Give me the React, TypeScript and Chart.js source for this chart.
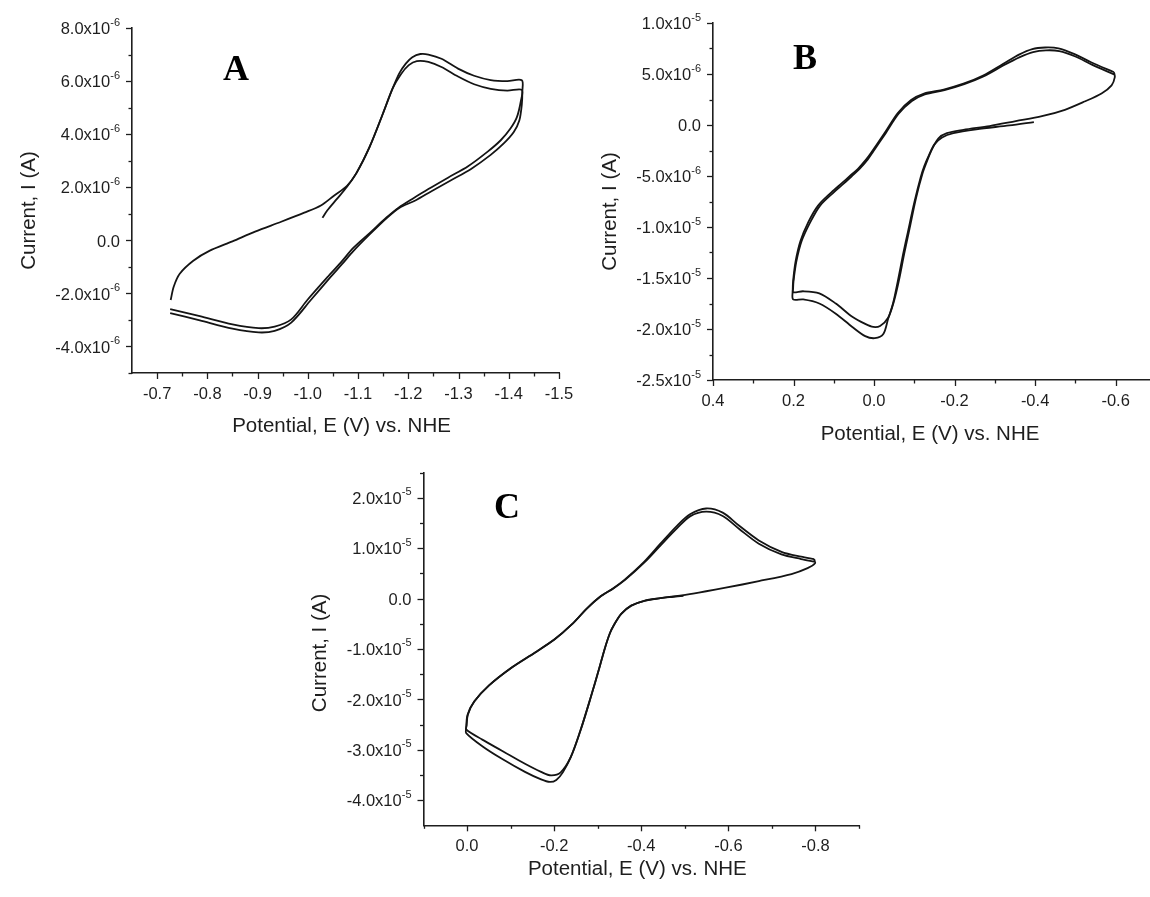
import React, { useEffect, useRef } from "react";
import { Chart, registerables } from "chart.js";

Chart.register(...registerables);

// ---------------- DATA (potential E in V, current I in µA) ----------------
// Panel A — cycle 1 (start hook, outer top, outer return/trough)
const A1_E = [-1.029, -1.039, -1.058, -1.078, -1.097, -1.123, -1.149, -1.169, -1.182, -1.195, -1.208, -1.224, -1.240, -1.266, -1.299, -1.331, -1.364, -1.397, -1.426, -1.427, -1.426, -1.421, -1.410, -1.390, -1.364, -1.325, -1.286, -1.247, -1.214, -1.182, -1.156, -1.123, -1.091, -1.068, -1.045, -1.006, -0.967, -0.934, -0.902, -0.850, -0.785, -0.726];
const A1_I = [0.85, 1.13, 1.56, 2.02, 2.54, 3.52, 4.75, 5.73, 6.29, 6.66, 6.90, 7.02, 7.00, 6.84, 6.47, 6.20, 6.04, 6.00, 6.03, 5.60, 5.12, 4.51, 4.08, 3.65, 3.22, 2.69, 2.27, 1.86, 1.50, 1.22, 0.82, 0.22, -0.40, -0.90, -1.39, -2.25, -3.10, -3.41, -3.47, -3.33, -3.02, -2.74];
// Panel A — cycle 2 (upper-left branch, inner top, inner return/trough)
const A2_E = [-0.727, -0.733, -0.745, -0.772, -0.804, -0.850, -0.895, -0.947, -0.993, -1.026, -1.052, -1.078, -1.097, -1.123, -1.149, -1.169, -1.185, -1.201, -1.217, -1.240, -1.266, -1.299, -1.331, -1.364, -1.397, -1.426, -1.424, -1.416, -1.403, -1.384, -1.358, -1.319, -1.279, -1.240, -1.208, -1.182, -1.156, -1.123, -1.091, -1.065, -1.039, -0.999, -0.967, -0.934, -0.902, -0.850, -0.785, -0.726];
const A2_I = [-2.25, -1.75, -1.26, -0.77, -0.40, -0.04, 0.33, 0.70, 1.04, 1.31, 1.68, 2.05, 2.54, 3.52, 4.75, 5.73, 6.25, 6.60, 6.75, 6.72, 6.53, 6.17, 5.88, 5.71, 5.64, 5.67, 5.24, 4.63, 4.20, 3.77, 3.34, 2.79, 2.36, 1.93, 1.56, 1.25, 0.85, 0.27, -0.28, -0.85, -1.39, -2.25, -2.98, -3.25, -3.31, -3.17, -2.86, -2.59];

// Panel B — cycle 1
const B1_E = [-0.397, -0.336, -0.254, -0.197, -0.169, -0.150, -0.137, -0.125, -0.116, -0.100, -0.084, -0.072, -0.059, -0.047, -0.035, -0.023, -0.002, 0.022, 0.054, 0.095, 0.136, 0.176, 0.201, 0.202, 0.201, 0.195, 0.183, 0.163, 0.139, 0.106, 0.080, 0.060, 0.040, 0.020, 0.006, -0.027, -0.059, -0.092, -0.124, -0.173, -0.222, -0.271, -0.320, -0.360, -0.393, -0.425, -0.458, -0.498, -0.539, -0.596];
const B1_I = [0.29, -0.04, -0.42, -0.80, -1.22, -1.90, -2.90, -4.00, -5.10, -7.60, -10.5, -12.7, -15.3, -17.5, -19.0, -20.5, -20.9, -20.7, -19.8, -18.5, -17.5, -17.1, -17.1, -16.2, -15.3, -13.4, -11.4, -9.5, -7.9, -6.6, -5.7, -5.0, -4.3, -3.4, -2.65, -0.74, 1.18, 2.45, 3.09, 3.48, 4.05, 4.85, 5.97, 6.90, 7.45, 7.60, 7.52, 6.95, 6.15, 5.17];
// Panel B — cycle 2
const B2_E = [-0.596, -0.598, -0.590, -0.565, -0.523, -0.474, -0.417, -0.352, -0.287, -0.222, -0.181, -0.160, -0.145, -0.132, -0.120, -0.104, -0.088, -0.075, -0.062, -0.050, -0.035, -0.015, 0.002, 0.022, 0.054, 0.095, 0.136, 0.176, 0.201, 0.201, 0.200, 0.193, 0.180, 0.158, 0.134, 0.100, 0.074, 0.055, 0.036, 0.016, 0.002, -0.029, -0.061, -0.094, -0.126, -0.175, -0.224, -0.273, -0.322, -0.362, -0.395, -0.427, -0.460, -0.500, -0.541, -0.596];
const B2_I = [5.17, 4.69, 3.89, 3.09, 2.30, 1.49, 0.86, 0.38, -0.10, -0.48, -0.80, -1.30, -2.30, -3.50, -4.80, -7.20, -10.2, -12.6, -15.2, -17.2, -18.9, -19.7, -19.8, -19.5, -18.8, -17.5, -16.5, -16.3, -16.4, -16.0, -15.3, -13.4, -11.4, -9.5, -7.9, -6.6, -5.7, -5.0, -4.3, -3.4, -2.6, -0.8, 1.1, 2.35, 3.0, 3.42, 4.0, 4.78, 5.85, 6.65, 7.15, 7.32, 7.25, 6.72, 5.92, 4.95];

// Panel C — cycle 1
const C1_E = [-0.497, -0.470, -0.444, -0.407, -0.377, -0.354, -0.337, -0.328, -0.316, -0.305, -0.283, -0.260, -0.238, -0.220, -0.205, -0.190, -0.170, -0.133, -0.080, -0.035, 0.002, 0.002, -0.001, -0.016, -0.050, -0.103, -0.155, -0.200, -0.240, -0.275, -0.305, -0.335, -0.362, -0.407, -0.444, -0.482, -0.512, -0.549, -0.587, -0.625, -0.670, -0.722, -0.767, -0.797];
const C1_I = [0.52, 0.30, 0.06, -0.45, -1.42, -3.05, -5.30, -6.90, -10.0, -13.4, -19.9, -26.3, -31.5, -34.5, -36.0, -36.4, -35.9, -34.4, -31.8, -29.3, -26.7, -25.7, -23.1, -20.5, -17.3, -13.7, -10.8, -8.2, -5.2, -2.0, 0.3, 2.0, 3.75, 7.32, 10.87, 14.43, 16.70, 17.86, 17.03, 14.43, 11.52, 9.26, 8.29, 7.83];
// Panel C — cycle 2
const C2_E = [-0.797, -0.799, -0.782, -0.745, -0.670, -0.594, -0.519, -0.444, -0.407, -0.377, -0.354, -0.337, -0.328, -0.316, -0.305, -0.283, -0.260, -0.238, -0.215, -0.193, -0.170, -0.133, -0.080, -0.035, 0.002, 0.001, -0.002, -0.017, -0.051, -0.104, -0.156, -0.201, -0.241, -0.276, -0.306, -0.336, -0.363, -0.408, -0.445, -0.483, -0.512, -0.549, -0.587, -0.625, -0.670, -0.722, -0.767, -0.797];
const C2_I = [7.83, 6.99, 6.02, 4.85, 3.44, 2.14, 0.97, 0.06, -0.45, -1.42, -3.05, -5.30, -6.90, -10.0, -13.4, -19.9, -26.3, -31.5, -34.5, -35.1, -34.4, -32.8, -30.2, -28.0, -26.0, -25.2, -23.0, -20.4, -17.2, -13.6, -10.7, -8.1, -5.1, -1.9, 0.4, 2.0, 3.7, 7.2, 10.6, 14.0, 16.3, 17.22, 16.37, 13.79, 10.87, 8.74, 7.83, 7.32];

// ---------------- TICKS ----------------
const A_X_MAJOR = [-0.7, -0.8, -0.9, -1.0, -1.1, -1.2, -1.3, -1.4, -1.5];
const A_X_MINOR = [-0.75, -0.85, -0.95, -1.05, -1.15, -1.25, -1.35, -1.45];
const A_Y_MAJOR = [8, 6, 4, 2, 0, -2, -4];
const A_Y_MINOR = [7, 5, 3, 1, -1, -3, -5];
const A_Y_LABELS = [["8.0x10", "-6"], ["6.0x10", "-6"], ["4.0x10", "-6"], ["2.0x10", "-6"], ["0.0", ""], ["-2.0x10", "-6"], ["-4.0x10", "-6"]];

const B_X_MAJOR = [0.4, 0.2, 0.0, -0.2, -0.4, -0.6];
const B_X_MINOR = [0.3, 0.1, -0.1, -0.3, -0.5];
const B_Y_MAJOR = [10, 5, 0, -5, -10, -15, -20, -25];
const B_Y_MINOR = [7.5, 2.5, -2.5, -7.5, -12.5, -17.5, -22.5];
const B_Y_LABELS = [["1.0x10", "-5"], ["5.0x10", "-6"], ["0.0", ""], ["-5.0x10", "-6"], ["-1.0x10", "-5"], ["-1.5x10", "-5"], ["-2.0x10", "-5"], ["-2.5x10", "-5"]];

const C_X_MAJOR = [0.0, -0.2, -0.4, -0.6, -0.8];
const C_X_MINOR = [0.1, -0.1, -0.3, -0.5, -0.7, -0.9];
const C_Y_MAJOR = [20, 10, 0, -10, -20, -30, -40];
const C_Y_MINOR = [25, 15, 5, -5, -15, -25, -35];
const C_Y_LABELS = [["2.0x10", "-5"], ["1.0x10", "-5"], ["0.0", ""], ["-1.0x10", "-5"], ["-2.0x10", "-5"], ["-3.0x10", "-5"], ["-4.0x10", "-5"]];

const X_TITLE = "Potential, E (V) vs. NHE";
const Y_TITLE = "Current, I (A)";

// ---------------- LAYOUT ----------------
const W = 1150;
const H = 897;
const SANS = '"Liberation Sans", Arial, Helvetica, sans-serif';
const SERIF = '"Liberation Serif", "Times New Roman", serif';
const INK = "#1e1e1e";

type PanelCfg = {
  id: string;
  letter: string;
  letterX: number;
  letterY: number;
  area: { left: number; top: number; right: number; bottom: number };
  xRange: [number, number];
  yRange: [number, number];
  series: { e: number[]; i: number[] }[];
  xMajor: number[];
  xMinor: number[];
  yMajor: number[];
  yMinor: number[];
  yLabels: string[][];
  xTitleX: number;
  xTitleDy: number;
  yTitleDy: number;
};

const PANELS: PanelCfg[] = [
  {
    id: "A", letter: "A", letterX: 236, letterY: 80,
    area: { left: 124, top: 28, right: 559, bottom: 381 },
    xRange: [-0.65, -1.5], yRange: [-5, 8],
    series: [{ e: A1_E, i: A1_I }, { e: A2_E, i: A2_I }],
    xMajor: A_X_MAJOR, xMinor: A_X_MINOR, yMajor: A_Y_MAJOR, yMinor: A_Y_MINOR, yLabels: A_Y_LABELS,
    xTitleX: 341.5, xTitleDy: 58.5, yTitleDy: 10,
  },
  {
    id: "B", letter: "B", letterX: 805, letterY: 69,
    area: { left: 705, top: 23, right: 1150, bottom: 388 },
    xRange: [0.4, -0.6854], yRange: [-25, 10],
    series: [{ e: B1_E, i: B1_I }, { e: B2_E, i: B2_I }],
    xMajor: B_X_MAJOR, xMinor: B_X_MINOR, yMajor: B_Y_MAJOR, yMinor: B_Y_MINOR, yLabels: B_Y_LABELS,
    xTitleX: 930, xTitleDy: 60, yTitleDy: 10,
  },
  {
    id: "C", letter: "C", letterX: 507, letterY: 517.5,
    area: { left: 415.5, top: 472.5, right: 859, bottom: 833.3 },
    xRange: [0.1, -0.9], yRange: [-45, 25],
    series: [{ e: C1_E, i: C1_I }, { e: C2_E, i: C2_I }],
    xMajor: C_X_MAJOR, xMinor: C_X_MINOR, yMajor: C_Y_MAJOR, yMinor: C_Y_MINOR, yLabels: C_Y_LABELS,
    xTitleX: 637.3, xTitleDy: 50, yTitleDy: 4,
  },
];

function decorPlugin(p: PanelCfg) {
  return {
    id: "decor" + p.id,
    afterDraw(chart: any) {
      const ctx: CanvasRenderingContext2D = chart.ctx;
      const xs = chart.scales.x;
      const ys = chart.scales.y;
      const a = chart.chartArea;
      ctx.save();
      ctx.strokeStyle = INK;
      ctx.lineWidth = 1.3;
      const xTick = (v: number, len: number) => {
        const px = Math.round(xs.getPixelForValue(v)) + 0.5;
        ctx.beginPath();
        ctx.moveTo(px, a.bottom);
        ctx.lineTo(px, a.bottom + len);
        ctx.stroke();
      };
      const yTick = (v: number, len: number) => {
        const py = Math.round(ys.getPixelForValue(v)) + 0.5;
        ctx.beginPath();
        ctx.moveTo(a.left, py);
        ctx.lineTo(a.left - len, py);
        ctx.stroke();
      };
      p.xMajor.forEach((v) => xTick(v, 6));
      p.xMinor.forEach((v) => xTick(v, 3.5));
      p.yMajor.forEach((v) => yTick(v, 6));
      p.yMinor.forEach((v) => yTick(v, 3.5));

      ctx.fillStyle = INK;
      ctx.font = `16.5px ${SANS}`;
      ctx.textAlign = "center";
      ctx.textBaseline = "alphabetic";
      p.xMajor.forEach((v) => {
        const px = xs.getPixelForValue(v);
        ctx.fillText(v.toFixed(1), px, a.bottom + 25.5);
      });
      p.yMajor.forEach((v, k) => {
        const py = ys.getPixelForValue(v);
        const [m, e] = p.yLabels[k];
        const right = a.left - 12;
        let ew = 0;
        ctx.textAlign = "right";
        ctx.textBaseline = "alphabetic";
        if (e) {
          ctx.font = `11px ${SANS}`;
          ew = ctx.measureText(e).width;
          ctx.fillText(e, right, py - 2.5);
        }
        ctx.font = `16.5px ${SANS}`;
        ctx.fillText(m, right - ew, py + 6.2);
      });
      ctx.font = `20.5px ${SANS}`;
      ctx.textAlign = "center";
      ctx.textBaseline = "alphabetic";
      ctx.fillText(X_TITLE, p.xTitleX, a.bottom + p.xTitleDy);
      ctx.save();
      ctx.translate(a.left - 103, (a.top + a.bottom) / 2 + p.yTitleDy);
      ctx.rotate(-Math.PI / 2);
      ctx.textBaseline = "middle";
      ctx.fillText(Y_TITLE, 0, 0);
      ctx.restore();
      ctx.fillStyle = "#000";
      ctx.font = `bold 36px ${SERIF}`;
      ctx.textAlign = "center";
      ctx.textBaseline = "alphabetic";
      ctx.fillText(p.letter, p.letterX, p.letterY);
      ctx.restore();
    },
  };
}

function Panel({ cfg }: { cfg: PanelCfg }) {
  const ref = useRef<HTMLCanvasElement | null>(null);
  useEffect(() => {
    if (!ref.current) return;
    const a = cfg.area;
    const [xl, xr] = cfg.xRange;
    const chart = new Chart(ref.current, {
      type: "scatter",
      data: {
        datasets: cfg.series.map((s) => ({
          data: s.e.map((e, k) => ({ x: e, y: s.i[k] })),
          showLine: true,
          borderColor: "#141414",
          borderWidth: 1.8,
          pointRadius: 0,
          pointHoverRadius: 0,
          tension: 0.3,
          fill: false,
        })),
      },
      options: {
        responsive: false,
        animation: false,
        devicePixelRatio: 1,
        events: [],
        layout: {
          padding: { left: a.left, top: a.top, right: W - a.right, bottom: H - a.bottom },
        },
        plugins: { legend: { display: false }, tooltip: { enabled: false }, title: { display: false } },
        scales: {
          x: {
            type: "linear",
            min: Math.min(xl, xr),
            max: Math.max(xl, xr),
            reverse: xl > xr,
            grid: { display: false },
            ticks: { display: false },
            border: { display: true, color: INK, width: 1.6 },
          },
          y: {
            type: "linear",
            min: cfg.yRange[0],
            max: cfg.yRange[1],
            grid: { display: false },
            ticks: { display: false },
            border: { display: true, color: INK, width: 1.6 },
          },
        },
      },
      plugins: [decorPlugin(cfg)],
    } as any);
    return () => chart.destroy();
  }, [cfg]);
  return (
    <canvas
      ref={ref}
      width={W}
      height={H}
      style={{ position: "absolute", left: 0, top: 0, width: W, height: H }}
    />
  );
}

export default function App() {
  return (
    <div
      style={{
        position: "absolute",
        left: 0,
        top: 0,
        width: W,
        height: H,
        background: "#fff",
        overflow: "hidden",
      }}
    >
      {PANELS.map((p) => (
        <Panel key={p.id} cfg={p} />
      ))}
    </div>
  );
}
